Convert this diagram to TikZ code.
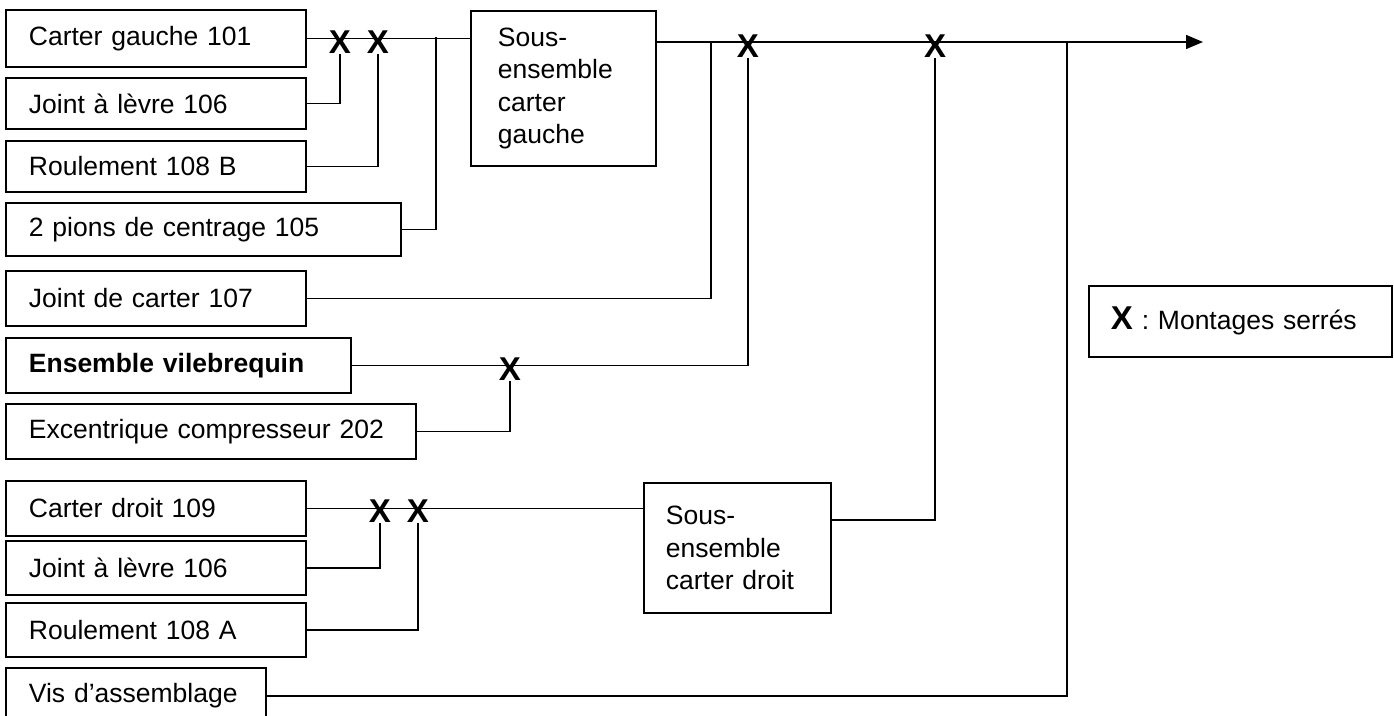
\documentclass[tikz,border=0pt]{standalone}
\usepackage{fontspec}
\setmainfont{Liberation Sans}
\usetikzlibrary{arrows.meta}
\begin{document}
\begin{tikzpicture}[x=0.5pt,y=-0.5pt,
  part/.style={draw, line width=0.9pt, anchor=north west, inner xsep=11.5pt, inner ysep=0pt, align=left, font=\fontsize{13.25}{16.25}\selectfont},
  link/.style={line width=0.7pt},
  xmark/.style={inner sep=0pt, font=\fontsize{16.5}{16.5}\selectfont\bfseries}]
\clip (0,0) rectangle (1394,716);
\fill[white] (0,0) rectangle (1394,716);
% left parts
\node[part, text width=127pt, minimum height=28.5pt] (cg) at (5,9) {Carter gauche 101};
\node[part, text width=127pt, minimum height=25.5pt] (jl) at (5,77) {Joint à lèvre 106};
\node[part, text width=127pt, minimum height=25.5pt] (rb) at (5,140) {Roulement 108 B};
\node[part, text width=174.5pt, minimum height=26.5pt] (pc) at (5,202) {2 pions de centrage 105};
\node[part, text width=127pt, minimum height=27.5pt] (jc) at (5,270) {Joint de carter 107};
\node[part, text width=149.5pt, minimum height=27.5pt, font=\fontsize{13.25}{16.25}\selectfont\bfseries] (ev) at (5,337) {Ensemble vilebrequin};
\node[part, text width=182pt, minimum height=27.5pt] (ec) at (5,403) {Excentrique compresseur 202};
\node[part, text width=127pt, minimum height=27.5pt] (cd) at (5,480) {Carter droit 109};
\node[part, text width=127pt, minimum height=27pt] (jl2) at (5,540) {Joint à lèvre 106};
\node[part, text width=127pt, minimum height=27pt] (ra) at (5,602) {Roulement 108 A};
\node[part, text width=107pt, minimum height=28pt] (vis) at (5,667) {Vis d’assemblage};
% sub-assemblies
\node[part, inner xsep=13.5pt, text width=65.5pt, minimum height=77.5pt] (scg) at (470,10) {Sous-\\ensemble\\carter\\gauche};
\node[part, inner xsep=11pt, text width=71.5pt, minimum height=65pt] (scd) at (643,482) {Sous-\\ensemble\\carter droit};
% legend
\node[part, inner xsep=11pt, text width=129.5pt, minimum height=35.5pt] (leg) at (1088,285) {{\fontsize{16.5}{16.5}\selectfont\bfseries X} : Montages serrés};
% coordinates
\coordinate (ml) at (0,42);
\coordinate (j1) at (436,37.5);
\coordinate (j2) at (711,42);
\coordinate (j3) at (1067,42);
\coordinate (tip) at (1203,42);
% X marks
\node[xmark] (x1) at (340,42) {X};
\node[xmark] (x2) at (378,42) {X};
\node[xmark] (x3) at (748,46) {X};
\node[xmark] (x4) at (935,46) {X};
\node[xmark] (x5) at (510,369) {X};
\node[xmark] (x6) at (380,511) {X};
\node[xmark] (x7) at (418,511) {X};
% connectors
\draw[link] (cg.east) -- (scg.west |- cg.east);
\draw[link] (jl.east) -| (x1.south);
\draw[link] (rb.east) -| (x2.south);
\draw[link] (pc.east) -| (j1);
\draw[link, -{Triangle[length=8.5pt,width=7pt]}] (scg.east |- ml) -- (tip);
\draw[link] (jc.east) -| (j2);
\draw[link] (ev.east) -| (x3.south);
\draw[link] (ec.east) -| (x5.south);
\draw[link] (cd.east) -- (scd.west |- cd.east);
\draw[link] (jl2.east) -| (x6.south);
\draw[link] (ra.east) -| (x7.south);
\draw[link] ([yshift=14pt]scd.east) -| (x4.south);
\draw[link] (vis.east) -| (j3);
\end{tikzpicture}
\end{document}
